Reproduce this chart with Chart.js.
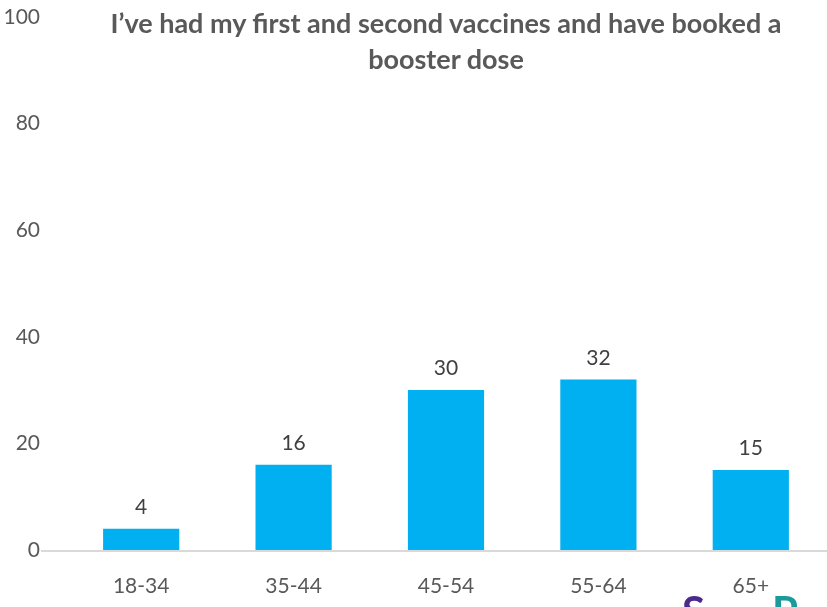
<!DOCTYPE html>
<html>
<head>
<meta charset="utf-8">
<script src="https://cdn.jsdelivr.net/npm/chart.js@4"></script>
<style>
    html, body { margin: 0; padding: 0; background: #fff; overflow: hidden; }
    #wrap { position: relative; width: 827px; height: 607px; overflow: hidden; }
    #title {
        position: absolute; left: 76px; width: 740px; top: 5px;
        text-align: center; font-family: Lato, sans-serif; font-weight: bold;
        font-size: 27px; line-height: 36px; color: #595959;
    }
    .logo { position: absolute; top: 586px; font-family: Lato, sans-serif; font-weight: bold; font-size: 42px; }
</style>
</head>
<body>
<div id="wrap">
    <canvas id="chart" width="827" height="607"></canvas>
    <div id="title">I’ve had my first and second vaccines and have booked a booster dose</div>
    <span class="logo" style="left:682px;color:#4b2a8c">S</span>
    <span class="logo" style="left:772px;color:#1a9a9a">P</span>
</div>
<script>
const ageGroups = ['18-34', '35-44', '45-54', '55-64', '65+'];
const bookedBooster = [4, 16, 30, 32, 15];
const yTicks = [0, 20, 40, 60, 80, 100];

// value labels over each bar
const barLabels = {
    id: 'barLabels',
    afterDatasetsDraw(chart) {
        const ctx = chart.ctx;
        const meta = chart.getDatasetMeta(0);
        ctx.save();
        ctx.font = '21px Lato, sans-serif';
        ctx.fillStyle = '#404040';
        ctx.textAlign = 'center';
        ctx.textBaseline = 'bottom';
        meta.data.forEach((bar, i) => {
            ctx.fillText(bookedBooster[i], bar.x, bar.y - 11);
        });
        ctx.restore();
    }
};

// baseline runs out past the category area, like the original
const baseline = {
    id: 'baseline',
    beforeDatasetsDraw(chart) {
        const ctx = chart.ctx;
        const y = chart.scales.y.getPixelForValue(0);
        ctx.save();
        ctx.strokeStyle = '#d9d9d9';
        ctx.lineWidth = 2;
        ctx.beginPath();
        ctx.moveTo(41, y + 1);
        ctx.lineTo(chart.width, y + 1);
        ctx.stroke();
        ctx.restore();
    }
};

new Chart(document.getElementById('chart'), {
    type: 'bar',
    data: {
        labels: ageGroups,
        datasets: [{
            data: bookedBooster,
            backgroundColor: '#00b0f0',
            barPercentage: 0.5,
            categoryPercentage: 1.0
        }]
    },
    options: {
        responsive: false,
        animation: false,
        layout: { padding: { top: 17, right: 0, bottom: 0, left: 0 } },
        plugins: { legend: { display: false }, tooltip: { enabled: false } },
        scales: {
            x: {
                grid: { display: false, drawTicks: false },
                border: { display: false },
                ticks: { font: { family: 'Lato', size: 21 }, color: '#595959', padding: 24 },
                afterFit(scale) {
                    scale.height = 57;
                    scale.paddingLeft = 0;
                    scale.paddingRight = 0;
                }
            },
            y: {
                min: 0,
                max: 100,
                afterBuildTicks(scale) { scale.ticks = yTicks.map(v => ({ value: v })); },
                grid: { display: false, drawTicks: false },
                border: { display: false },
                ticks: { font: { family: 'Lato', size: 21 }, color: '#595959', padding: 25 },
                afterFit(scale) {
                    scale.width = 65;
                    scale.paddingTop = 0;
                    scale.paddingBottom = 0;
                }
            }
        }
    },
    plugins: [baseline, barLabels]
});
</script>
</body>
</html>
